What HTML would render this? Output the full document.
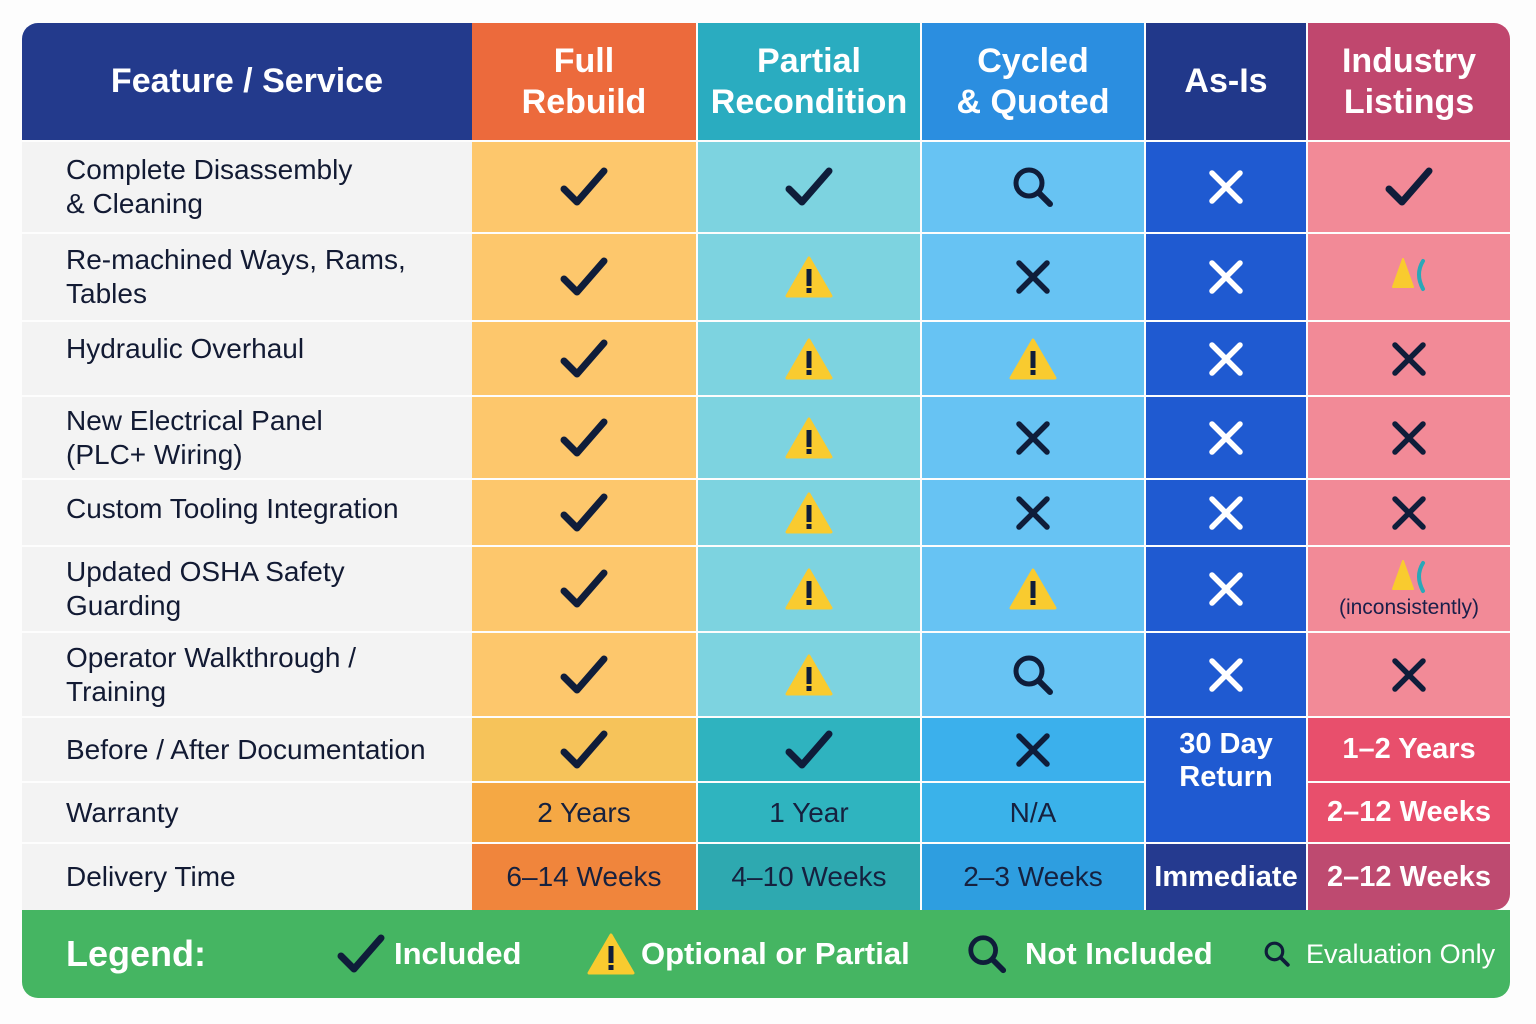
<!DOCTYPE html>
<html><head><meta charset="utf-8">
<style>
body{margin:0;width:1536px;height:1024px;background:#fdfdfd;position:relative;overflow:hidden;font-family:"Liberation Sans","DejaVu Sans",sans-serif}
.c{position:absolute;display:flex;align-items:center;justify-content:center;box-sizing:border-box;text-align:center}
.h{color:#fff;font-weight:bold;font-size:34px;line-height:41px}
.l{justify-content:flex-start;padding-left:44px;text-align:left;font-size:28px;line-height:34px;color:#121a33;background:#f3f3f3}
.t{font-size:28px;color:#16213f}
.w{color:#fff;font-weight:bold;font-size:29px}
svg{display:block}
</style></head><body>
<div id="g"></div>
<script>
const X=[[22,472],[472,696],[698,920],[922,1144],[1146,1306],[1308,1510]];
const Y=[[23,140],[142,232],[234,320],[322,395],[397,478],[480,545],[547,631],[633,716],[718,781],[783,842],[844,910]];
const g=document.getElementById('g');
function cell(ci,ri,html,cls,bg,extra){const d=document.createElement('div');d.className='c '+cls;
let x=X[ci],y=Y[ri];d.style.left=x[0]+'px';d.style.width=(x[1]-x[0])+'px';d.style.top=y[0]+'px';d.style.height=(y[1]-y[0])+'px';
if(bg)d.style.background=bg;if(extra)Object.assign(d.style,extra);d.innerHTML=html;g.appendChild(d);return d;}
const D='#0f1d3a';
const CK=`<svg width="50" height="44" viewBox="0 0 50 44"><path d="M5 24 L18 37 L45 6" fill="none" stroke="${D}" stroke-width="7" stroke-linecap="round" stroke-linejoin="round"/></svg>`;
const XX=c=>`<svg width="36" height="36" viewBox="0 0 36 36"><path d="M4 4L32 32M32 4L4 32" stroke="${c}" stroke-width="5.5" stroke-linecap="round"/></svg>`;
const WR=`<svg width="50" height="44" viewBox="0 0 50 44"><path d="M25 3 L47 41 L3 41 Z" fill="#f9cb2f" stroke="#f9cb2f" stroke-width="3" stroke-linejoin="round"/><rect x="22.5" y="14" width="5" height="17" fill="${D}"/><rect x="22.5" y="33" width="5" height="5" fill="${D}"/></svg>`;
const MG=(s)=>`<svg width="${s}" height="${s}" viewBox="0 0 44 44"><circle cx="18" cy="18" r="13" fill="none" stroke="${D}" stroke-width="5"/><path d="M28 28 L39 39" stroke="${D}" stroke-width="6" stroke-linecap="round"/></svg>`;
const TP=`<div><svg width="40" height="36" viewBox="0 0 40 36" style="display:inline-block"><path d="M14 2 L24 30 L4 30 Z" fill="#f9cb2f" stroke="#f9cb2f" stroke-width="2" stroke-linejoin="round"/><path d="M34 4 Q26 17 34 32" fill="none" stroke="#2aa8b8" stroke-width="4" stroke-linecap="round"/></svg></div>`;
// header
cell(0,0,'Feature / Service','h','#233a8c',{borderTopLeftRadius:'16px'});
cell(1,0,'Full<br>Rebuild','h','#ec6a3c');
cell(2,0,'Partial<br>Recondition','h','#2aacc0');
cell(3,0,'Cycled<br>&amp; Quoted','h','#2b8ee0');
cell(4,0,'As-Is','h','#21388a');
cell(5,0,'Industry<br>Listings','h','#c0476e',{borderTopRightRadius:'16px'});
const labels=['Complete Disassembly<br>&amp; Cleaning','Re-machined Ways, Rams,<br>Tables','Hydraulic Overhaul','New Electrical Panel<br>(PLC+ Wiring)','Custom Tooling Integration','Updated OSHA Safety<br>Guarding','Operator Walkthrough /<br>Training','Before / After Documentation','Warranty','Delivery Time'];
labels.forEach((t,i)=>{const d=cell(0,i+1,t,'l');if(i==2)d.style.alignItems='flex-start',d.style.paddingTop='10px';if(i==4)d.style.alignItems='flex-start',d.style.paddingTop='12px';if(i==9)d.style.borderBottomLeftRadius='0';});
const rows=[
['C','C','M','W','C'],
['C','W','X','W','T'],
['C','W','W','W','X'],
['C','W','X','W','X'],
['C','W','X','W','X'],
['C','W','W','W','T2'],
['C','W','M','W','X'],
['C','C','X']];
const bgs=['#fdc76c','#7dd3e0','#67c3f3','#1f5ad1','#f28a97'];
for(let r=0;r<7;r++){rows[r].forEach((k,j)=>{let h;
if(j==3)h=XX('#fff');else if(k=='C')h=CK;else if(k=='W')h=WR;else if(k=='X')h=XX(D);else if(k=='M')h=MG(44);else if(k=='T')h=TP;else h=TP+'<div style="font-size:21px;color:#1a1f4a;margin-top:-4px">(inconsistently)</div>';
const d=cell(j+1,r+1,h,'',bgs[j]);if(k=='T2')d.style.flexDirection='column';});}
cell(1,8,CK,'','#f6c35a');cell(2,8,CK,'','#2fb3bf');cell(3,8,XX(D),'','#3bb0ec');
// as-is merged
(function(){const d=document.createElement('div');d.className='c w';Object.assign(d.style,{left:'1146px',width:'160px',top:'718px',height:'124px',background:'#1f5ad1',alignItems:'flex-start',paddingTop:'10px',lineHeight:'33px'});d.innerHTML='30 Day<br>Return';g.appendChild(d);})();
cell(5,8,'1–2 Years','w','#e84f6c');
cell(1,9,'2 Years','t','#f5a844');cell(2,9,'1 Year','t','#2fb4bf');cell(3,9,'N/A','t','#3ab2ea');
cell(5,9,'2–12 Weeks','w','#e84f6c');
cell(1,10,'6–14 Weeks','t','#f0853c');cell(2,10,'4–10 Weeks','t','#2ea9b0');cell(3,10,'2–3 Weeks','t','#2e9ee0');
cell(4,10,'Immediate','w','#253a8f');cell(5,10,'2–12 Weeks','w','#be4a70',{borderBottomRightRadius:'16px'});
// legend
const L=document.createElement('div');Object.assign(L.style,{position:'absolute',left:'22px',top:'910px',width:'1488px',height:'88px',background:'#45b562',borderRadius:'0 0 16px 16px',zIndex:-1});g.appendChild(L);
L.style.zIndex=0;
function lt(x,html,fs,bold){const d=document.createElement('div');Object.assign(d.style,{position:'absolute',left:x+'px',top:'910px',height:'88px',display:'flex',alignItems:'center',color:'#fff',fontSize:fs+'px',fontWeight:bold?'bold':'normal'});d.innerHTML=html;g.appendChild(d);}
lt(66,'Legend:',36,true);
lt(336,CK,0);lt(394,'Included',31,true);
lt(586,WR,0);lt(641,'Optional or Partial',31,true);
lt(966,MG(42),0);lt(1025,'Not Included',31,true);
lt(1263,MG(28),0);lt(1306,'Evaluation Only',27,false);
</script>
</body></html>
